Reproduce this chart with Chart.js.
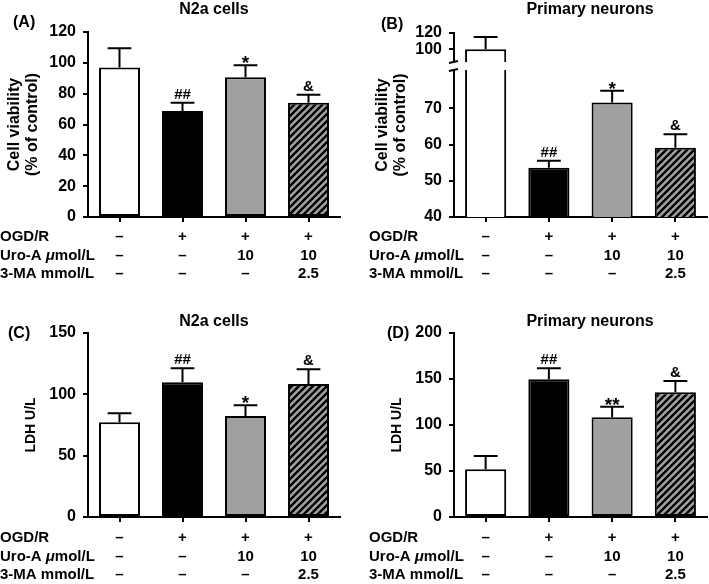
<!DOCTYPE html>
<html>
<head>
<meta charset="utf-8">
<script src="https://cdn.jsdelivr.net/npm/chart.js@4.4.0/dist/chart.umd.min.js"></script>
<style>
  body { margin: 0; background: #fff; width: 709px; height: 584px; position: relative; overflow: hidden; }
  canvas { position: absolute; }
</style>
</head>
<body>
<canvas id="chartA" width="354" height="300" style="left:0;top:0"></canvas>
<canvas id="chartB" width="355" height="300" style="left:354px;top:0"></canvas>
<canvas id="chartC" width="354" height="284" style="left:0;top:300px"></canvas>
<canvas id="chartD" width="355" height="284" style="left:354px;top:300px"></canvas>
<script>
const groups = ['Control', 'OGD/R', 'OGD/R + Uro-A', 'OGD/R + Uro-A + 3-MA'];
const rowNames = ['OGD/R', 'Uro-A μmol/L', '3-MA mmol/L'];
const ogdRow = ['–', '+', '+', '+'];
const uroRow = ['–', '–', '10', '10'];
const maRow = ['–', '–', '–', '2.5'];

// (A) N2a cells, cell viability
const viabN2a = [97, 68.8, 90.6, 74.1];
const viabN2aErr = [12.4, 5.3, 7.8, 5.2];
// (B) primary neurons, cell viability
const viabNeu = [100, 53.6, 71.6, 59.1];
const viabNeuErr = [15, 1.9, 3.2, 3.7];
// (C) N2a cells, LDH
const ldhN2a = [77.2, 109.8, 82.3, 108.4];
const ldhN2aErr = [7.3, 11.4, 8.7, 12];
// (D) primary neurons, LDH
const ldhNeu = [51.8, 149.7, 108.4, 135.5];
const ldhNeuErr = [14.5, 11.9, 11.5, 12.3];

const marksViab = ['', '##', '*', '&'];
const marksLdhN2a = ['', '##', '*', '&'];
const marksLdhNeu = ['', '##', '**', '&'];

const ticksA = [0, 20, 40, 60, 80, 100, 120];
const ticksB = [40, 50, 60, 70, 100, 120];
const ticksC = [0, 50, 100, 150];
const ticksD = [0, 50, 100, 150, 200];

const FONT = '"Liberation Sans", Arial, Helvetica, sans-serif';
Chart.defaults.font.family = FONT;
Chart.defaults.font.weight = 'bold';
Chart.defaults.color = '#000';

// broken y axis for panel B: value -> fraction of axis height
const brokenMap = [[40, 0], [80, 0.788], [84, 0.842], [120, 1]];

const LinearBase = Chart.LinearScale || Chart.registry.getScale('linear');
class BrokenScale extends LinearBase {
  static id = 'broken';
  getPixelForValue(value) {
    if (value === null || value === undefined) return NaN;
    let p = brokenMap;
    for (let i = 1; i < p.length; i++) {
      if (value <= p[i][0] || i === p.length - 1) {
        const f = p[i - 1][1] + (value - p[i - 1][0]) / (p[i][0] - p[i - 1][0]) * (p[i][1] - p[i - 1][1]);
        return this.getPixelForDecimal(f);
      }
    }
  }
  getValueForPixel(pixel) {
    const f = this.getDecimalForPixel(pixel);
    let p = brokenMap;
    for (let i = 1; i < p.length; i++) {
      if (f <= p[i][1] || i === p.length - 1) {
        return p[i - 1][0] + (f - p[i - 1][1]) / (p[i][1] - p[i - 1][1]) * (p[i][0] - p[i - 1][0]);
      }
    }
  }
}
Chart.register(BrokenScale);

function hatch() {
  const s = 7;
  const c = document.createElement('canvas');
  c.width = s; c.height = s;
  const g = c.getContext('2d');
  g.fillStyle = '#a0a0a0';
  g.fillRect(0, 0, s, s);
  g.strokeStyle = '#000';
  g.lineWidth = 2.4;
  g.beginPath();
  g.moveTo(0, s); g.lineTo(s, 0);
  g.moveTo(-1, 1); g.lineTo(1, -1);
  g.moveTo(s - 1, s + 1); g.lineTo(s + 1, s - 1);
  g.stroke();
  return g.createPattern(c, 'repeat');
}

function decoPlugin(cfg) {
  return {
    id: 'deco',
    afterDatasetsDraw(chart) {
      const ctx = chart.ctx;
      const y = chart.scales.y;
      const bars = chart.getDatasetMeta(0).data;
      ctx.save();
      if (cfg.broken) {
        const top = y.getPixelForValue(84);
        const bot = y.getPixelForValue(80) - 2;
        ctx.fillStyle = '#fff';
        ctx.fillRect(y.right - 3, top, chart.chartArea.right - y.right + 3, bot - top);
        ctx.strokeStyle = '#000';
        ctx.lineWidth = 2;
        [top, bot].forEach(py => {
          ctx.beginPath();
          ctx.moveTo(y.right - 5, py + 1);
          ctx.lineTo(y.right + 4, py - 1);
          ctx.stroke();
        });
      }
      ctx.strokeStyle = '#000';
      ctx.lineWidth = 2;
      ctx.fillStyle = '#000';
      ctx.textAlign = 'center';
      ctx.textBaseline = 'alphabetic';
      bars.forEach((bar, i) => {
        const top = y.getPixelForValue(cfg.values[i] + cfg.errs[i]);
        const half = bar.width * 0.29;
        ctx.beginPath();
        ctx.moveTo(bar.x, bar.y);
        ctx.lineTo(bar.x, top);
        ctx.moveTo(bar.x - half, top);
        ctx.lineTo(bar.x + half, top);
        ctx.stroke();
        const m = cfg.marks[i];
        if (m) {
          if (m[0] === '*') {
            ctx.font = 'bold 19px ' + FONT;
            ctx.fillText(m, bar.x, top + 4);
          } else {
            ctx.font = 'bold 15px ' + FONT;
            ctx.fillText(m, bar.x, top - 4);
          }
        }
      });
      ctx.restore();
    },
    afterDraw(chart) {
      const ctx = chart.ctx;
      const x = chart.scales.x;
      ctx.save();
      ctx.fillStyle = '#000';
      ctx.textBaseline = 'middle';
      ctx.textAlign = 'center';
      ctx.font = 'bold 16px ' + FONT;
      ctx.fillText(cfg.title, cfg.titleX, cfg.titleY);
      ctx.textAlign = 'left';
      ctx.fillText(cfg.label, cfg.labelX, cfg.labelY);

      const rows = [ogdRow, uroRow, maRow];
      rows.forEach((row, r) => {
        const ry = x.top + cfg.rowOffset + r * 18.5;
        ctx.textAlign = 'left';
        // row name, with an italic mu
        let px = cfg.rowX;
        rowNames[r].split(/(μ)/).forEach(part => {
          if (!part) return;
          ctx.font = (part === 'μ' ? 'italic bold 15px ' : 'bold 15px ') + FONT;
          ctx.fillText(part, px, ry);
          px += ctx.measureText(part).width;
        });
        ctx.font = 'bold 15px ' + FONT;
        ctx.textAlign = 'center';
        row.forEach((v, i) => ctx.fillText(v, x.getPixelForValue(i), ry));
      });
      ctx.restore();
    }
  };
}

function makePanel(id, cfg) {
  const fills = ['#ffffff', '#000000', '#a0a0a0', hatch()];
  return new Chart(document.getElementById(id), {
    type: 'bar',
    data: {
      labels: groups,
      datasets: [{
        data: cfg.values,
        backgroundColor: fills,
        borderColor: '#000',
        borderWidth: 2,
        borderSkipped: false,
        barPercentage: 0.65,
        categoryPercentage: 1
      }]
    },
    options: {
      responsive: false,
      animation: false,
      events: [],
      layout: { padding: { top: cfg.top, right: cfg.right, left: 0, bottom: 0 } },
      plugins: { legend: { display: false }, tooltip: { enabled: false } },
      scales: {
        x: {
          grid: { offset: false, drawOnChartArea: false, color: '#000', lineWidth: 2, tickLength: 5 },
          border: { color: '#000', width: 2 },
          ticks: { display: false },
          afterFit: s => { s.height = cfg.xHeight; }
        },
        y: {
          type: cfg.broken ? 'broken' : 'linear',
          min: cfg.ticks[0],
          max: cfg.ticks[cfg.ticks.length - 1],
          afterBuildTicks: s => { s.ticks = cfg.ticks.map(v => ({ value: v })); },
          ticks: { autoSkip: false, padding: 7, color: '#000', font: { size: 16, weight: 'bold' } },
          grid: { drawOnChartArea: false, color: '#000', lineWidth: 2, tickLength: 5 },
          border: { color: '#000', width: 2 },
          title: {
            display: true,
            text: cfg.yTitle,
            color: '#000',
            font: { size: cfg.yTitleSize, weight: 'bold', lineHeight: 1.08 },
            padding: { top: cfg.yTitlePad, bottom: 0 }
          },
          afterFit: s => { s.width = cfg.yWidth; }
        }
      }
    },
    plugins: [decoPlugin(cfg)]
  });
}

makePanel('chartA', {
  values: viabN2a, errs: viabN2aErr, marks: marksViab, ticks: ticksA,
  title: 'N2a cells', titleX: 214, titleY: 10, label: '(A)', labelX: 13, labelY: 23,
  yTitle: ['Cell viability', '(% of control)'], yTitleSize: 16, yTitlePad: 6.4,
  yWidth: 88, top: 32, right: 14, xHeight: 83, rowOffset: 20, rowX: 0
});
makePanel('chartB', {
  values: viabNeu, errs: viabNeuErr, marks: marksViab, ticks: ticksB, broken: true,
  title: 'Primary neurons', titleX: 236, titleY: 10, label: '(B)', labelX: 27, labelY: 25,
  yTitle: ['Cell viability', '(% of control)'], yTitleSize: 16, yTitlePad: 20.4,
  yWidth: 100, top: 33, right: 2, xHeight: 83, rowOffset: 20, rowX: 15
});
makePanel('chartC', {
  values: ldhN2a, errs: ldhN2aErr, marks: marksLdhN2a, ticks: ticksC,
  title: 'N2a cells', titleX: 214, titleY: 22, label: '(C)', labelX: 8, labelY: 34,
  yTitle: 'LDH U/L', yTitleSize: 14, yTitlePad: 23.4,
  yWidth: 88, top: 33, right: 14, xHeight: 67, rowOffset: 21, rowX: 0
});
makePanel('chartD', {
  values: ldhNeu, errs: ldhNeuErr, marks: marksLdhNeu, ticks: ticksD,
  title: 'Primary neurons', titleX: 236, titleY: 22, label: '(D)', labelX: 33, labelY: 34,
  yTitle: 'LDH U/L', yTitleSize: 14, yTitlePad: 35.4,
  yWidth: 100, top: 33, right: 2, xHeight: 67, rowOffset: 21, rowX: 15
});
</script>
</body>
</html>
